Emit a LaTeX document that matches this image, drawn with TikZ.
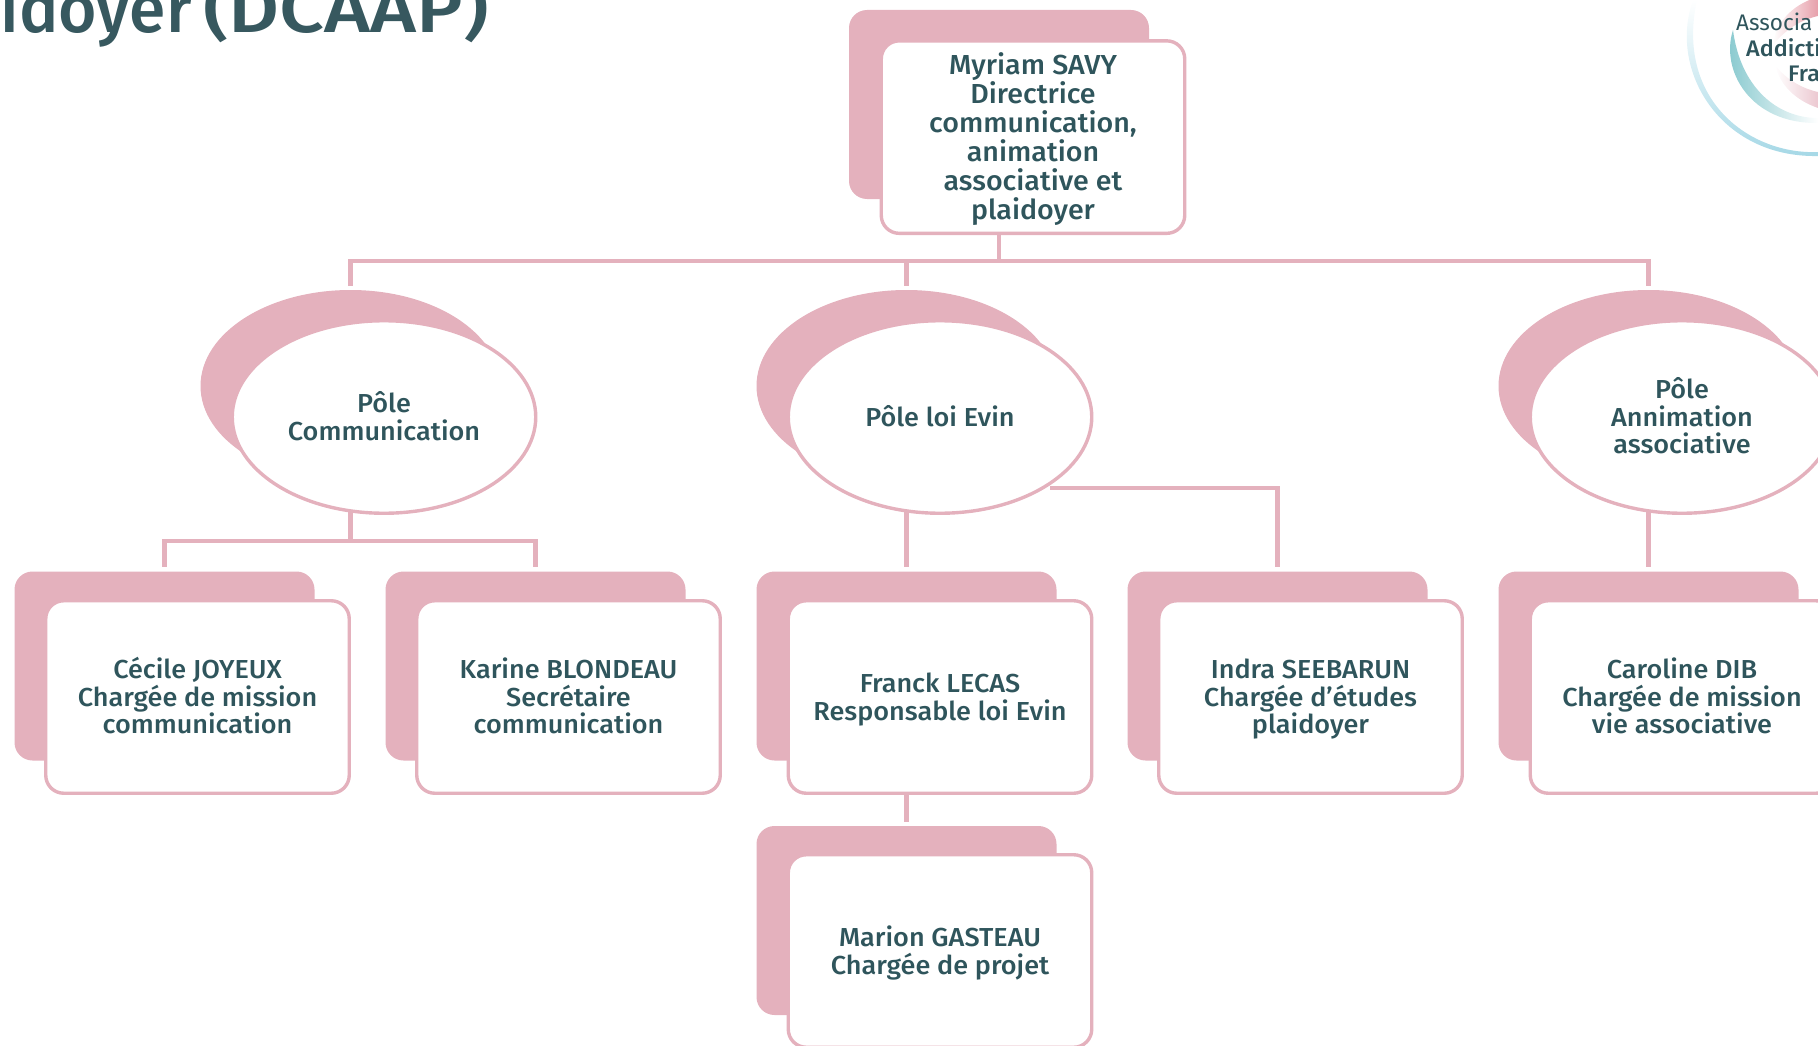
\documentclass[tikz,border=0pt]{standalone}
\usepackage{fontspec}
\setmainfont{Fira Sans Medium}[FakeStretch=1.04]
\newfontfamily\titlecaps{Fira Sans Medium}[FakeStretch=1.16]
\newfontfamily\titlelow{Fira Sans Medium}[FakeStretch=0.97]
\newfontfamily\logolight{Fira Sans}
\usetikzlibrary{backgrounds,shapes.geometric}
\definecolor{rosec}{HTML}{E4B1BD}
\definecolor{inkc}{HTML}{2F555C}
\definecolor{titlec}{HTML}{37585F}
\definecolor{logoblue}{HTML}{A5D8E6}
\definecolor{logoteal}{HTML}{7FC5CB}
\newcommand\evt{\vphantom{Á}}
\newcommand\evb{\vphantom{p}}
\tikzset{
  backbox/.style={rectangle,fill=rosec,rounded corners=18pt,minimum width=300pt,minimum height=189pt,inner sep=0pt},
  frontbox/.style={rectangle,draw=rosec,line width=3.4pt,fill=white,rounded corners=18pt,minimum width=303.5pt,minimum height=192.5pt,inner sep=0pt,align=center,text=inkc,font=\fontsize{26}{27.4}\selectfont},
  bigbox/.style={frontbox,font=\fontsize{27.5}{29}\selectfont},
  backell/.style={ellipse,fill=rosec,minimum width=300pt,minimum height=192pt,inner sep=0pt},
  frontell/.style={ellipse,draw=rosec,line width=3.4pt,fill=white,minimum width=303.5pt,minimum height=192.5pt,inner sep=0pt,align=center,text=inkc,font=\fontsize{26}{27.4}\selectfont},
  conn/.style={draw=rosec,line width=4.4pt,shorten >=4pt},
  logotext/.style={inner sep=0pt,anchor=base west,text=inkc,font=\fontsize{22.5}{24}\selectfont}
}
\begin{document}
\begin{tikzpicture}[x=1pt,y=-1pt]
\useasboundingbox (0,0) rectangle (1818,1046);
\clip (0,0) rectangle (1818,1046);
% logo
\shade[top color=white,bottom color=logoblue] (1693,0) .. controls (1668,70) and (1720,158) .. (1818,156) -- (1818,152) .. controls (1750,155) and (1675,100) .. (1697,0) -- cycle;
\shade[left color=logoteal,right color=white] (1733,30) .. controls (1720,70) and (1750,124) .. (1818,123) -- (1818,118) .. controls (1775,118) and (1740,85) .. (1733,30) -- cycle;
\shade[left color=white,right color=rosec!90!red] (1773,45) .. controls (1775,25) and (1790,5) .. (1818,-3) -- (1818,16) .. controls (1800,20) and (1785,30) .. (1773,45) -- cycle;
\shade[left color=white,right color=rosec!70!white] (1775,65) .. controls (1780,85) and (1795,100) .. (1818,108) -- (1818,92) .. controls (1800,88) and (1785,78) .. (1775,65) -- cycle;
\node[logotext,font=\logolight\fontsize{22.5}{24}\selectfont] (lg1) at (1736,31) {Associa};
\node[logotext] (lg2) at (1746,57) {Addicti};
\node[logotext] (lg3) at (1788,82) {Fra};
% title
\node[inner sep=0pt,anchor=base east,text=titlec,font=\fontsize{68}{70}\selectfont] (title) at (489,33) {{\titlelow idoyer}\hspace{11pt}{\titlecaps (DCAAP)}};
% director
\node[backbox] (dirb) at (999,104.5) {};
\node[bigbox] (dirf) at (1033,137.1) {\evt Myriam SAVY\\Directrice\\communication,\\animation\\associative et\\\evb plaidoyer};
% poles
\node[backell] (pcb) at (350.5,386) {};
\node[frontell] (pcf) at (384,417) {\evt Pôle\\\evb Communication};
\node[backell] (peb) at (906.5,386) {};
\node[frontell] (pef) at (940,417) {\evt\evb Pôle loi Evin};
\node[backell] (pab) at (1648.5,386) {};
\node[frontell] (paf) at (1682,417) {\evt Pôle\\Annimation\\\evb associative};
% persons
\node[backbox] (cjb) at (164.5,666) {};
\node[frontbox] (cjf) at (197.5,697) {\evt Cécile JOYEUX\\Chargée de mission\\\evb communication};
\node[backbox] (kbb) at (535.5,666) {};
\node[frontbox] (kbf) at (568.5,697) {\evt Karine BLONDEAU\\Secrétaire\\\evb communication};
\node[backbox] (flb) at (906.5,666) {};
\node[frontbox] (flf) at (940,697) {\evt Franck LECAS\\\evb Responsable loi Evin};
\node[backbox] (isb) at (1277.5,666) {};
\node[frontbox] (isf) at (1310.5,697) {\evt Indra SEEBARUN\\Chargée d'études\\\evb plaidoyer};
\node[backbox] (cdb) at (1648.5,666) {};
\node[frontbox] (cdf) at (1682,697) {\evt Caroline DIB\\Chargée de mission\\\evb vie associative};
\node[backbox] (mgb) at (906.5,920.5) {};
\node[frontbox] (mgf) at (940,951) {\evt Marion GASTEAU\\\evb Chargée de projet};
% connectors
\coordinate (topbar) at (999,261);
\coordinate (combar) at (350.5,541);
\coordinate (evinout) at (1050,488);
\begin{scope}[on background layer]
\draw[conn] (dirb.center) -- (topbar) -| (pcb.north);
\draw[conn] (topbar) -| (peb.north);
\draw[conn] (topbar) -| (pab.north);
\draw[conn] (pcb.center) -- (combar) -| (cjb.north);
\draw[conn] (combar) -| (kbb.north);
\draw[conn] (peb.center) -- (flb.north);
\draw[conn] (evinout) -| (isb.north);
\draw[conn] (pab.center) -- (cdb.north);
\draw[conn] (flb.center) -- (mgb.north);
\end{scope}
\end{tikzpicture}
\end{document}
